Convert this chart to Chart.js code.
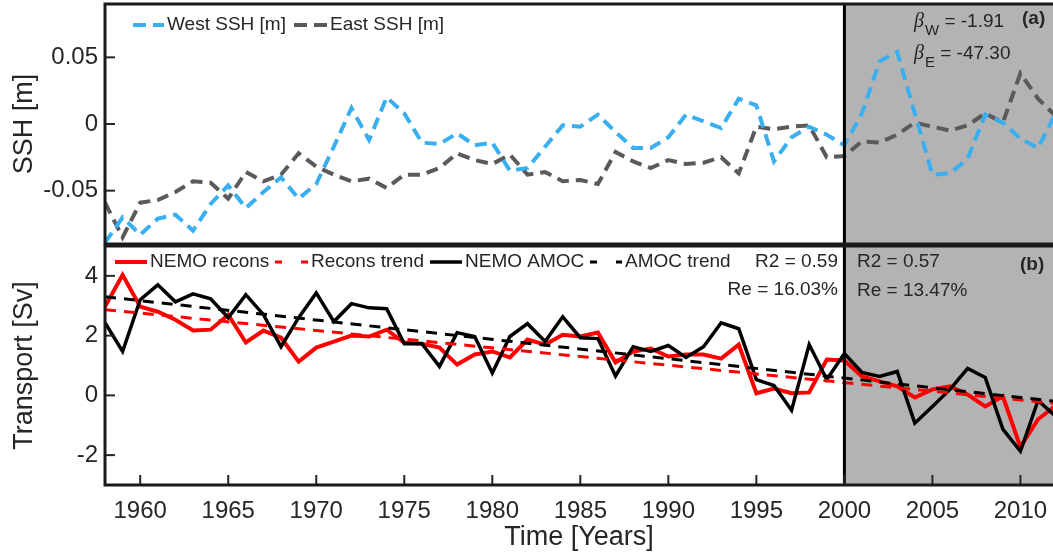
<!DOCTYPE html>
<html>
<head>
<meta charset="utf-8">
<script src="https://cdn.jsdelivr.net/npm/chart.js@4.4.1/dist/chart.umd.min.js"></script>
<style>
  html, body { margin: 0; padding: 0; background: #fff; overflow: hidden; }
  #wrap { position: relative; width: 1053px; height: 554px; }
  .panel { position: absolute; left: 0; width: 1053px; }
  #top { top: 0; height: 246px; }
  #bot { top: 244px; height: 310px; }
</style>
</head>
<body>
<div id="wrap">
  <div class="panel" id="top"><canvas id="sshChart"></canvas></div>
  <div class="panel" id="bot"><canvas id="amocChart"></canvas></div>
</div>
<script>
const years = [1958, 1959, 1960, 1961, 1962, 1963, 1964, 1965, 1966, 1967,
  1968, 1969, 1970, 1971, 1972, 1973, 1974, 1975, 1976, 1977,
  1978, 1979, 1980, 1981, 1982, 1983, 1984, 1985, 1986, 1987,
  1988, 1989, 1990, 1991, 1992, 1993, 1994, 1995, 1996, 1997,
  1998, 1999, 2000, 2001, 2002, 2003, 2004, 2005, 2006, 2007,
  2008, 2009, 2010, 2011, 2012];

// panel (a): sea surface height [m]
const westSSH = [-0.089, -0.070, -0.083, -0.071, -0.068, -0.080, -0.060, -0.046, -0.063, -0.051,
  -0.040, -0.056, -0.045, -0.017, 0.012, -0.012, 0.020, 0.008, -0.014, -0.015,
  -0.007, -0.016, -0.014, -0.035, -0.033, -0.017, -0.001, -0.002, 0.007, -0.006,
  -0.018, -0.018, -0.010, 0.007, 0.002, -0.003, 0.019, 0.014, -0.028, -0.010,
  -0.002, -0.008, -0.016, 0.008, 0.047, 0.054, 0.008, -0.038, -0.037, -0.026,
  0.007, 0.001, -0.011, -0.018, 0.008];
const eastSSH = [-0.059, -0.085, -0.059, -0.057, -0.051, -0.043, -0.044, -0.056, -0.036, -0.043,
  -0.038, -0.022, -0.032, -0.038, -0.043, -0.041, -0.048, -0.038, -0.038, -0.033,
  -0.022, -0.027, -0.030, -0.023, -0.038, -0.036, -0.043, -0.042, -0.045, -0.021,
  -0.028, -0.033, -0.027, -0.030, -0.029, -0.025, -0.037, -0.002, -0.004, -0.002,
  -0.001, -0.025, -0.024, -0.013, -0.014, -0.008, 0.001, -0.002, -0.005, -0.001,
  0.008, 0.001, 0.038, 0.019, 0.006];

// panel (b): transport [Sv]
const nemoRecons = [2.97, 4.03, 2.97, 2.80, 2.53, 2.17, 2.20, 2.70, 1.77, 2.17,
  1.93, 1.13, 1.60, 1.80, 2.00, 1.97, 2.20, 1.77, 1.73, 1.60,
  1.03, 1.37, 1.47, 1.27, 1.87, 1.70, 2.03, 1.97, 2.10, 1.10,
  1.47, 1.57, 1.30, 1.37, 1.37, 1.23, 1.70, 0.07, 0.23, 0.07,
  0.10, 1.20, 1.17, 0.63, 0.47, 0.30, -0.07, 0.20, 0.30, 0.03,
  -0.37, -0.03, -1.73, -0.80, -0.35];
const nemoAMOC = [2.43, 1.47, 3.20, 3.70, 3.13, 3.40, 3.23, 2.60, 3.37, 2.70,
  1.63, 2.60, 3.43, 2.47, 3.07, 2.93, 2.90, 1.73, 1.73, 0.97,
  2.10, 1.97, 0.75, 1.97, 2.40, 1.80, 2.63, 1.93, 1.90, 0.65,
  1.63, 1.47, 1.67, 1.27, 1.63, 2.43, 2.23, 0.53, 0.33, -0.50,
  1.70, 0.53, 1.40, 0.77, 0.63, 0.80, -0.93, -0.37, 0.20, 0.90,
  0.60, -1.13, -1.87, -0.17, -0.70];
const trendYears = [1958, 2012];
const reconsTrend = [2.87, -0.27];
const amocTrend = [3.30, -0.20];

const splitYear = 2000;
const xTicks = [1960, 1965, 1970, 1975, 1980, 1985, 1990, 1995, 2000, 2005, 2010];
const sshTicks = [-0.05, 0, 0.05];
const transportTicks = [-2, 0, 2, 4];

const FONT = '"Liberation Sans", Arial, sans-serif';
const INK = '#262626';

const pts = (xs, ys) => xs.map((x, i) => ({ x: x, y: ys[i] }));

function drawBeta(ctx, x, y, sub, rest) {
  ctx.textAlign = 'left';
  ctx.textBaseline = 'alphabetic';
  ctx.font = 'italic 20px "Liberation Serif", serif';
  ctx.fillText('\u03B2', x, y);
  x += ctx.measureText('\u03B2').width + 1;
  ctx.font = '15px ' + FONT;
  ctx.fillText(sub, x, y + 8);
  x += ctx.measureText(sub).width;
  ctx.font = '19px ' + FONT;
  ctx.fillText(rest, x, y);
}

const panelDecor = {
  id: 'panelDecor',
  beforeDatasetsDraw(chart) {
    const { ctx, chartArea: a } = chart;
    const xs = chart.scales.x.getPixelForValue(splitYear);
    ctx.save();
    ctx.fillStyle = '#b3b3b3';
    ctx.fillRect(xs, a.top, a.right - xs, a.bottom - a.top);
    ctx.restore();
  },
  afterDatasetsDraw(chart, args, opts) {
    const { ctx, chartArea: a } = chart;
    const x = chart.scales.x, y = chart.scales.y;
    const xs = x.getPixelForValue(splitYear);
    ctx.save();
    ctx.strokeStyle = '#000';
    ctx.lineWidth = 3;
    ctx.beginPath();
    ctx.moveTo(xs, a.top);
    ctx.lineTo(xs, a.bottom);
    ctx.stroke();

    // inward ticks
    ctx.strokeStyle = INK;
    ctx.lineWidth = 2;
    y.ticks.forEach(t => {
      const py = y.getPixelForValue(t.value);
      ctx.beginPath();
      ctx.moveTo(a.left, py);
      ctx.lineTo(a.left + 10, py);
      ctx.stroke();
    });
    if (opts.xTicks) {
      xTicks.forEach(v => {
        const px = x.getPixelForValue(v);
        ctx.beginPath();
        ctx.moveTo(px, a.bottom);
        ctx.lineTo(px, a.bottom - 10);
        ctx.stroke();
      });
    }

    // frame
    ctx.strokeStyle = '#1a1a1a';
    ctx.lineWidth = 3;
    ctx.strokeRect(a.left, a.top, a.right - a.left + 4, a.bottom - a.top);

    // legend
    ctx.font = '19px ' + FONT;
    ctx.textBaseline = 'middle';
    ctx.textAlign = 'left';
    (opts.legend || []).forEach(it => {
      const ds = chart.data.datasets[it.ds];
      ctx.strokeStyle = ds.borderColor;
      ctx.lineWidth = ds.borderWidth;
      ctx.setLineDash(it.dash || []);
      ctx.beginPath();
      ctx.moveTo(it.x, it.y);
      ctx.lineTo(it.x + it.len, it.y);
      ctx.stroke();
      ctx.setLineDash([]);
      ctx.fillStyle = INK;
      ctx.fillText(ds.label, it.x + it.len + 3, it.y);
    });

    // annotations
    ctx.fillStyle = INK;
    (opts.texts || []).forEach(t => {
      ctx.font = (t.bold ? 'bold ' : '') + '19px ' + FONT;
      ctx.textAlign = t.align || 'left';
      ctx.textBaseline = 'middle';
      ctx.fillText(t.text, t.x, t.y);
    });
    (opts.betas || []).forEach(b => drawBeta(ctx, b.x, b.y, b.sub, b.rest));
    ctx.restore();
  }
};

const xScale = (show) => ({
  type: 'linear',
  min: 1958,
  max: 2011.85,
  display: show,
  afterBuildTicks: s => { s.ticks = xTicks.map(v => ({ value: v })); },
  afterFit: s => {
    if (show) s.height = 69;
    s.paddingLeft = 0;
    s.paddingRight = 0;
  },
  grid: { display: false, drawTicks: false },
  border: { display: false },
  ticks: { color: INK, font: { family: FONT, size: 24 }, padding: 12, maxRotation: 0, callback: v => String(v) },
  title: { display: show, text: 'Time [Years]', color: INK, font: { family: FONT, size: 27 }, padding: { top: 0, bottom: 0 } }
});

const yScale = (min, max, ticks, label) => ({
  type: 'linear',
  min: min,
  max: max,
  afterBuildTicks: s => { s.ticks = ticks.map(v => ({ value: v })); },
  afterFit: s => {
    s.width = 105;
    s.paddingTop = 0;
    s.paddingBottom = 0;
  },
  grid: { display: false, drawTicks: false },
  border: { display: false },
  ticks: { color: INK, font: { family: FONT, size: 24 }, padding: 7, callback: v => String(v) },
  title: { display: true, text: label, color: INK, font: { family: FONT, size: 27 }, padding: { top: 8, bottom: 0 } }
});

const baseOpts = {
  responsive: true,
  maintainAspectRatio: false,
  animation: false,
  events: [],
  elements: { point: { radius: 0 }, line: { tension: 0 } }
};

new Chart(document.getElementById('sshChart'), {
  type: 'line',
  data: {
    datasets: [
      { label: 'West SSH [m]', data: pts(years, westSSH), borderColor: '#3aaff0', borderWidth: 4, borderDash: [12, 7] },
      { label: 'East SSH [m]', data: pts(years, eastSSH), borderColor: '#5a5a5a', borderWidth: 4, borderDash: [12, 7] }
    ]
  },
  options: Object.assign({}, baseOpts, {
    layout: { padding: { top: 4, bottom: 2, left: 0, right: 0 } },
    scales: { x: xScale(false), y: yScale(-0.09, 0.09, sshTicks, 'SSH [m]') },
    plugins: {
      legend: { display: false },
      tooltip: { enabled: false },
      panelDecor: {
        xTicks: false,
        legend: [
          { ds: 0, x: 133, y: 25, len: 31, dash: [13, 7] },
          { ds: 1, x: 294, y: 25, len: 33, dash: [13, 7] }
        ],
        texts: [{ text: '(a)', x: 1022, y: 19, bold: true }],
        betas: [
          { x: 914, y: 27, sub: 'W', rest: ' = -1.91' },
          { x: 914, y: 59, sub: 'E', rest: ' = -47.30' }
        ]
      }
    }
  }),
  plugins: [panelDecor]
});

new Chart(document.getElementById('amocChart'), {
  type: 'line',
  data: {
    datasets: [
      { label: 'AMOC trend', data: pts(trendYears, amocTrend), borderColor: '#000000', borderWidth: 3, borderDash: [11, 8] },
      { label: 'Recons trend', data: pts(trendYears, reconsTrend), borderColor: '#ff0000', borderWidth: 3, borderDash: [11, 8] },
      { label: 'NEMO AMOC', data: pts(years, nemoAMOC), borderColor: '#000000', borderWidth: 3.5 },
      { label: 'NEMO recons', data: pts(years, nemoRecons), borderColor: '#ff0000', borderWidth: 4 }
    ]
  },
  options: Object.assign({}, baseOpts, {
    layout: { padding: { top: 2, bottom: 0, left: 0, right: 0 } },
    scales: { x: xScale(true), y: yScale(-3, 5, transportTicks, 'Transport [Sv]') },
    plugins: {
      legend: { display: false },
      tooltip: { enabled: false },
      panelDecor: {
        xTicks: true,
        legend: [
          { ds: 3, x: 115, y: 18, len: 32 },
          { ds: 1, x: 275, y: 18, len: 33, dash: [7, 19] },
          { ds: 2, x: 430, y: 18, len: 32 },
          { ds: 0, x: 590, y: 18, len: 32, dash: [7, 19] }
        ],
        texts: [
          { text: 'R2 = 0.59', x: 838, y: 18, align: 'right' },
          { text: 'Re = 16.03%', x: 838, y: 46, align: 'right' },
          { text: 'R2 = 0.57', x: 857, y: 18 },
          { text: 'Re = 13.47%', x: 857, y: 47 },
          { text: '(b)', x: 1020, y: 21, bold: true }
        ]
      }
    }
  }),
  plugins: [panelDecor]
});
</script>
</body>
</html>
